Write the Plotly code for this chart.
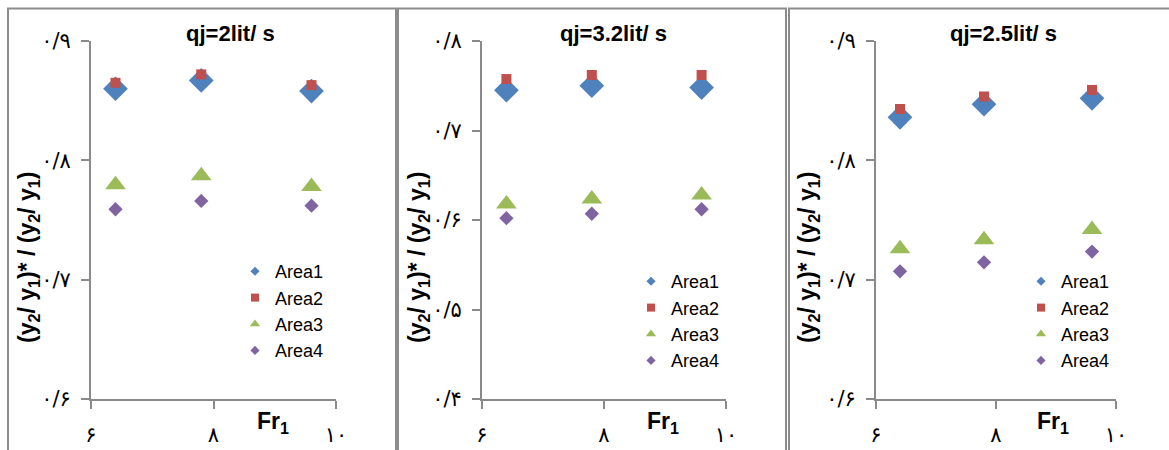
import plotly.graph_objects as go

W, H = 1169, 450

# ---- data ----
fr1 = [6.4, 7.8, 9.6]
series_names = ["Area1", "Area2", "Area3", "Area4"]
panel_titles = ["qj=2lit/ s", "qj=3.2lit/ s", "qj=2.5lit/ s"]

p1_area1 = [0.860, 0.867, 0.858]
p1_area2 = [0.865, 0.872, 0.863]
p1_area3 = [0.7795, 0.787, 0.778]
p1_area4 = [0.759, 0.766, 0.762]

p2_area1 = [0.745, 0.750, 0.748]
p2_area2 = [0.7575, 0.762, 0.762]
p2_area3 = [0.618, 0.6235, 0.628]
p2_area4 = [0.602, 0.607, 0.612]

p3_area1 = [0.836, 0.847, 0.852]
p3_area2 = [0.843, 0.8535, 0.859]
p3_area3 = [0.726, 0.7334, 0.742]
p3_area4 = [0.707, 0.7145, 0.7235]

x_tickvals = [6, 8, 10]
x_ticktext = ["۶", "۸", "۱۰"]
p1_yticks = [0.6, 0.7, 0.8, 0.9]
p1_yticktext = ["۰/۶", "۰/۷", "۰/۸", "۰/۹"]
p2_yticks = [0.4, 0.5, 0.6, 0.7, 0.8]
p2_yticktext = ["۰/۴", "۰/۵", "۰/۶", "۰/۷", "۰/۸"]
p3_yticks = [0.6, 0.7, 0.8, 0.9]
p3_yticktext = ["۰/۶", "۰/۷", "۰/۸", "۰/۹"]

# ---- styles ----
colors = ["#4F81BD", "#C0504D", "#9BBB59", "#8064A2"]
symbols = ["diamond", "square", "triangle-up", "diamond"]
sizes = [19, 10, 18, 11]
legend_sizes = [7, 8, 9, 7]
AX = "#8a8a8a"
NARROW = "Liberation Sans Narrow, Arial Narrow, Liberation Sans, Arial, sans-serif"
DIGITS = "DejaVu Sans, Noto Sans, sans-serif"


def px(x):
    return x / W


def py(y):
    return 1 - y / H


panels = [
    dict(data=[p1_area1, p1_area2, p1_area3, p1_area4], yr=[0.6, 0.9],
         yt=p1_yticks, ytt=p1_yticktext, xd=(91, 336),
         title_x=230, ytitle_x=28, fr_x=273, leg=(235, 253)),
    dict(data=[p2_area1, p2_area2, p2_area3, p2_area4], yr=[0.4, 0.8],
         yt=p2_yticks, ytt=p2_yticktext, xd=(482, 726),
         title_x=613, ytitle_x=418, fr_x=663, leg=(631, 263)),
    dict(data=[p3_area1, p3_area2, p3_area3, p3_area4], yr=[0.6, 0.9],
         yt=p3_yticks, ytt=p3_yticktext, xd=(876, 1116),
         title_x=1003, ytitle_x=808, fr_x=1053, leg=(1021, 263)),
]

fig = go.Figure()
layout = dict(width=W, height=H,
              margin=dict(l=0, r=0, t=0, b=0, pad=0, autoexpand=False),
              paper_bgcolor="white", plot_bgcolor="white", showlegend=True)
annotations = []
shapes = []

for i, p in enumerate(panels):
    n = "" if i == 0 else str(i + 1)
    xa, ya = "x" + n, "y" + n
    legname = "legend" + n
    for s in range(4):
        fig.add_trace(go.Scatter(
            x=fr1, y=p["data"][s], mode="markers", name=series_names[s],
            xaxis=xa, yaxis=ya, showlegend=False, hoverinfo="x+y",
            marker=dict(symbol=symbols[s], color=colors[s], size=sizes[s],
                        line=dict(width=0))))
    for s in range(4):
        fig.add_trace(go.Scatter(
            x=[None], y=[None], mode="markers", name=series_names[s],
            xaxis=xa, yaxis=ya, showlegend=True, legend=legname,
            marker=dict(symbol=symbols[s], color=colors[s], size=legend_sizes[s],
                        line=dict(width=0))))
    layout["xaxis" + n] = dict(
        domain=[px(p["xd"][0]), px(p["xd"][1])], anchor=ya, range=[6, 10],
        automargin=False,
        tickvals=x_tickvals, ticktext=x_ticktext, showgrid=False, zeroline=False,
        showline=True, linecolor=AX, linewidth=2, ticks="outside", ticklen=8,
        tickwidth=2, tickcolor=AX, ticklabelstandoff=8,
        tickfont=dict(family=DIGITS, size=21, color="black"))
    layout["yaxis" + n] = dict(
        domain=[py(399), py(41)], anchor=xa, range=p["yr"],
        automargin=False,
        tickvals=p["yt"], ticktext=p["ytt"], showgrid=False, zeroline=False,
        showline=True, linecolor=AX, linewidth=2, ticks="outside", ticklen=8,
        tickwidth=2, tickcolor=AX, ticklabelstandoff=6,
        tickfont=dict(family=DIGITS, size=21, color="black"))
    layout[legname] = dict(
        x=px(p["leg"][0]), y=py(p["leg"][1]), xanchor="left", yanchor="top",
        bgcolor="rgba(0,0,0,0)", tracegroupgap=0,
        font=dict(family=NARROW, size=18, color="black"))
    annotations.append(dict(
        text="<b>%s</b>" % panel_titles[i], x=px(p["title_x"]), y=py(33),
        xref="paper", yref="paper", showarrow=False, xanchor="center", yanchor="middle",
        font=dict(family=NARROW, size=22, color="black")))
    annotations.append(dict(
        text="<b>(y<sub>2</sub>/ y<sub>1</sub>)* / (y<sub>2</sub>/ y<sub>1</sub>)</b>",
        x=px(p["ytitle_x"]), y=py(258), xref="paper", yref="paper", showarrow=False,
        textangle=-90, xanchor="center", yanchor="middle",
        font=dict(family=NARROW, size=23, color="black")))
    annotations.append(dict(
        text="<b>Fr<sub>1</sub></b>", x=px(p["fr_x"]), y=py(422),
        xref="paper", yref="paper", showarrow=False, xanchor="center", yanchor="middle",
        font=dict(family=NARROW, size=23, color="black")))

# panel frames (chart-area borders)
for x0, x1 in [(8, 396), (398, 786), (789, 1180)]:
    shapes.append(dict(type="rect", xref="paper", yref="paper",
                       x0=px(x0), x1=px(x1), y0=py(470), y1=py(8.5),
                       line=dict(color="#8c8c8c", width=2), fillcolor="rgba(0,0,0,0)",
                       layer="below"))

layout["annotations"] = annotations
layout["shapes"] = shapes
fig.update_layout(**layout)
fig.write_html("out.html")
